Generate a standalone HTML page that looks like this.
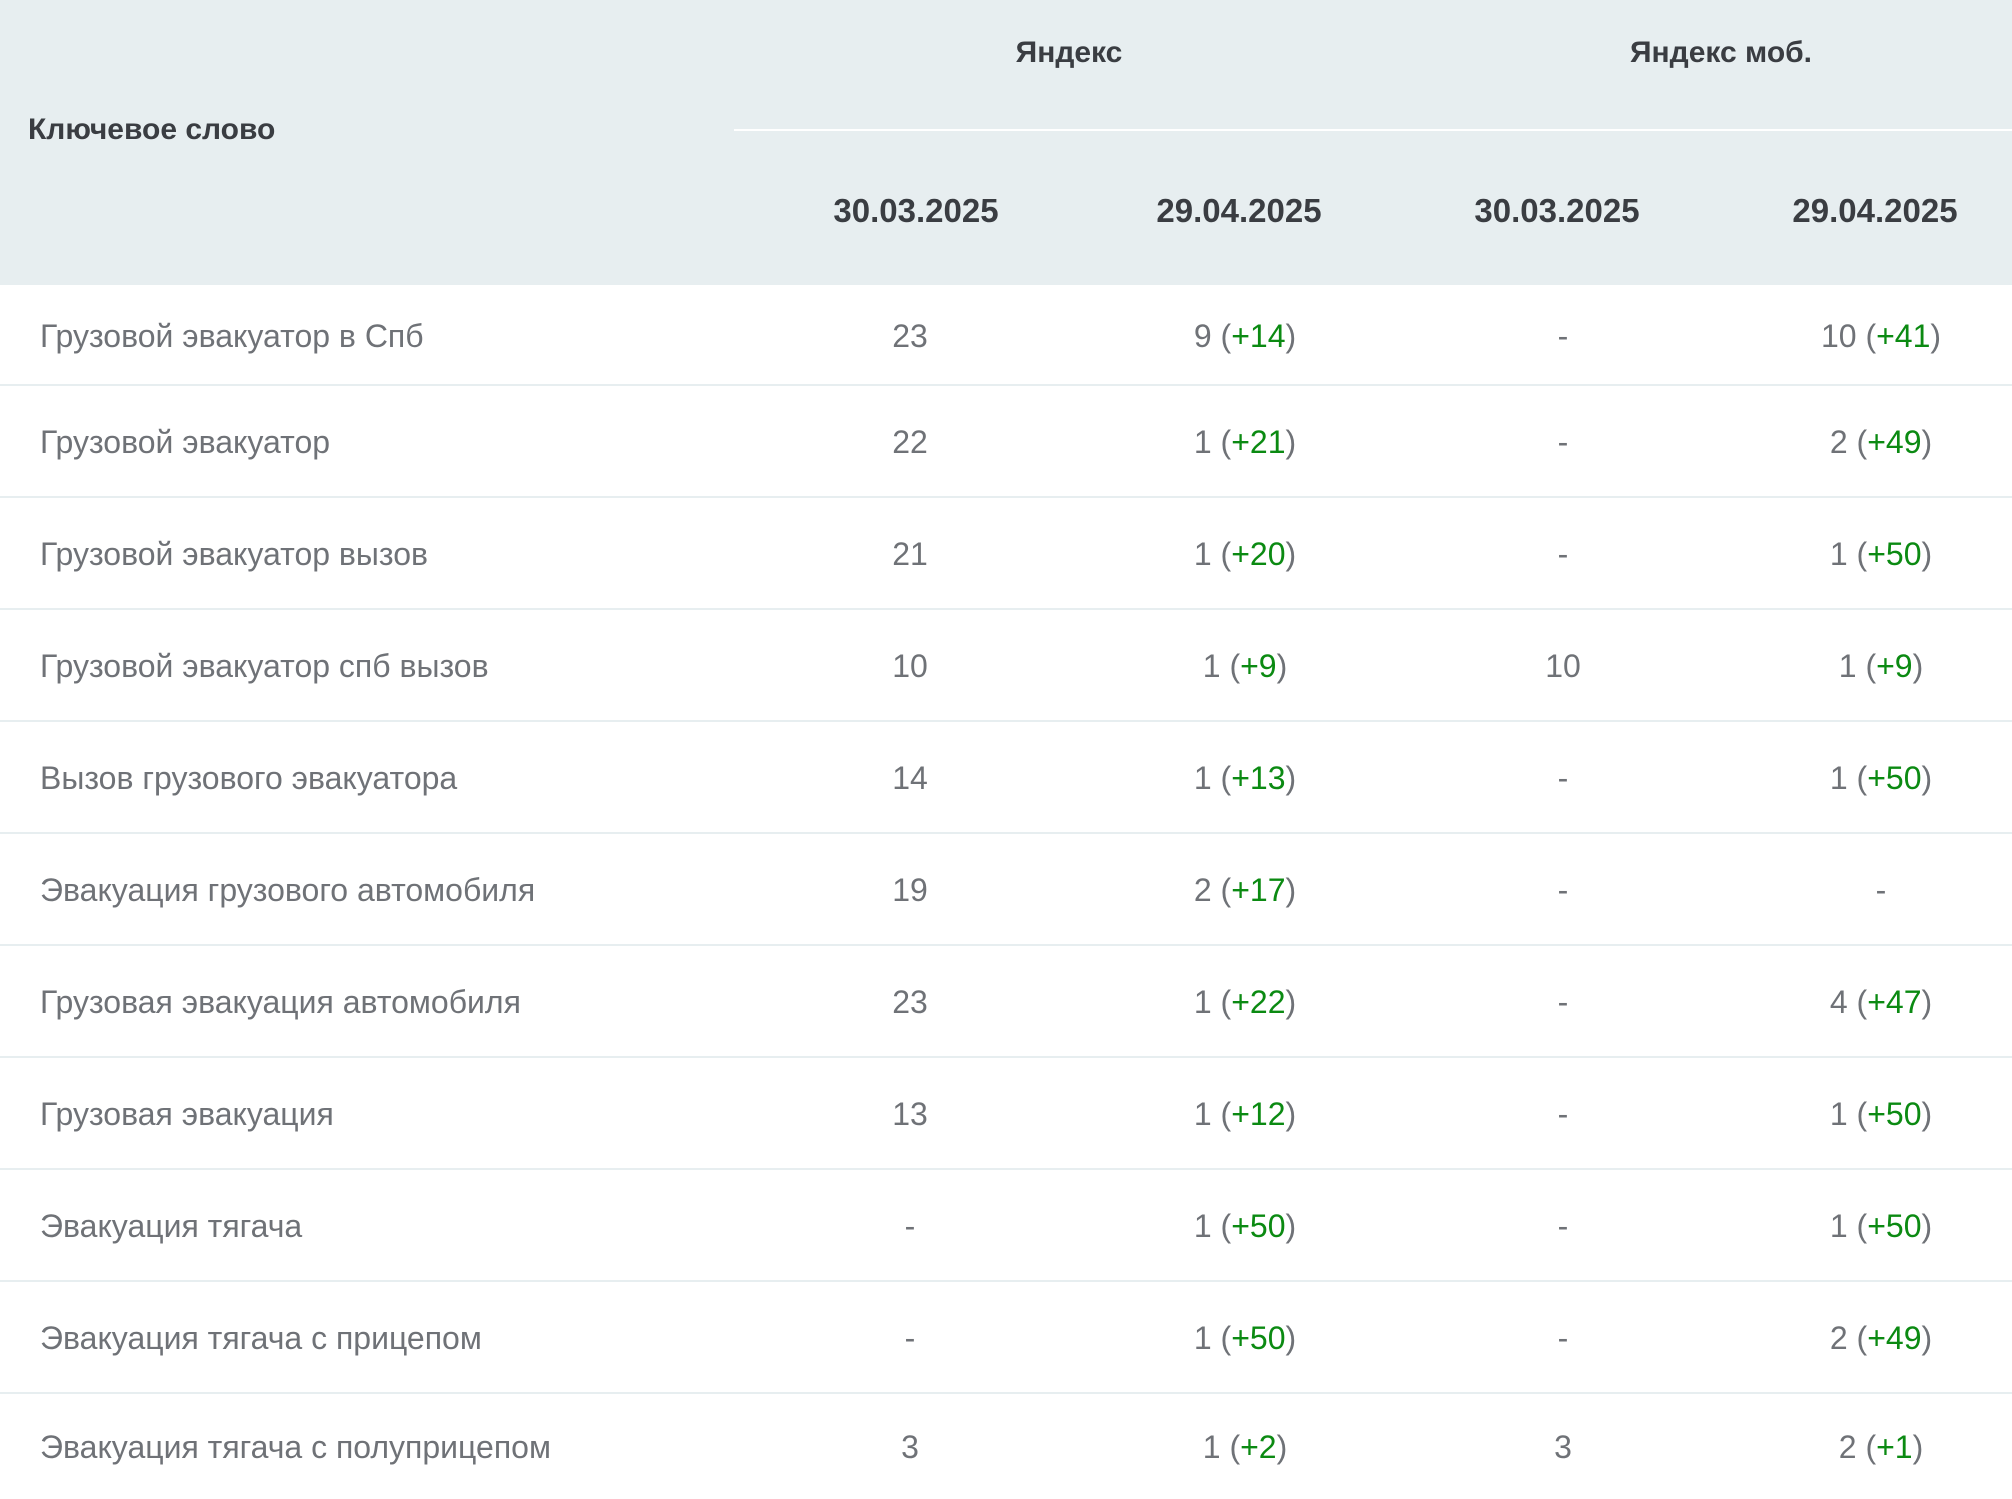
<!DOCTYPE html>
<html><head><meta charset="utf-8">
<style>
html,body{margin:0;padding:0;background:#fff;}
body{width:2012px;height:1499px;position:relative;overflow:hidden;font-family:"Liberation Sans","DejaVu Sans",sans-serif;}
.hdr{position:absolute;left:0;top:0;width:2012px;height:285px;background:#e7eef0;}
.sub{position:absolute;left:734px;top:129px;width:1278px;height:2px;background:#fff;}
.h{position:absolute;color:#3a3d42;font-weight:bold;white-space:nowrap;transform:translateX(-50%);}
.kw{position:absolute;color:#6f7277;font-size:32px;white-space:nowrap;}
.c{position:absolute;color:#6f7277;font-size:32px;white-space:nowrap;transform:translateX(-50%);}
.g{color:#0b8a12;}
.sep{position:absolute;left:0;width:2012px;height:2px;background:#e7eef0;}
</style></head>
<body>
<div class="hdr"></div>
<div class="sub"></div>
<div class="h" style="left:0;transform:none;left:28px;top:113px;font-size:30px;">Ключевое слово</div>
<div class="h" style="left:1069px;top:36px;font-size:30px;">Яндекс</div>
<div class="h" style="left:1721px;top:36px;font-size:30px;">Яндекс моб.</div>
<div class="h" style="left:916px;top:192px;font-size:33px;">30.03.2025</div>
<div class="h" style="left:1239px;top:192px;font-size:33px;">29.04.2025</div>
<div class="h" style="left:1557px;top:192px;font-size:33px;">30.03.2025</div>
<div class="h" style="left:1875px;top:192px;font-size:33px;">29.04.2025</div>
<div id="rows"></div>
<script>
const keywords=["Грузовой эвакуатор в Спб","Грузовой эвакуатор","Грузовой эвакуатор вызов","Грузовой эвакуатор спб вызов","Вызов грузового эвакуатора","Эвакуация грузового автомобиля","Грузовая эвакуация автомобиля","Грузовая эвакуация","Эвакуация тягача","Эвакуация тягача с прицепом","Эвакуация тягача с полуприцепом"];
const yaOld=["23","22","21","10","14","19","23","13","-","-","3"];
const yaNew=["9","1","1","1","1","2","1","1","1","1","1"];
const yaDelta=["+14","+21","+20","+9","+13","+17","+22","+12","+50","+50","+2"];
const mobOld=["-","-","-","10","-","-","-","-","-","-","3"];
const mobNew=["10","2","1","1","1","-","4","1","1","2","2"];
const mobDelta=["+41","+49","+50","+9","+50","","+47","+50","+50","+49","+1"];
const root=document.getElementById('rows');
const tops=[285,385,497,609,721,833,945,1057,1169,1281,1393];
const bottoms=[385,497,609,721,833,945,1057,1169,1281,1393,1499];
function cell(x,yc,html,name){
  const d=document.createElement('div');
  d.className='c';
  d.style.left=x+'px';d.style.top=(yc-19)+'px';
  d.innerHTML=html;
  
  
  root.appendChild(d);
}
keywords.forEach((k,i)=>{
  const yc=(tops[i]+bottoms[i])/2+2;
  const r=document.createElement('div');
  r.className='kw';r.style.left='40px';r.style.top=(yc-19)+'px';r.textContent=k;
  
  
  root.appendChild(r);
  cell(910,yc,yaOld[i],'yandex-old-position');
  cell(1245,yc,yaNew[i]==='-'?'-':yaNew[i]+' (<span class="g">'+yaDelta[i]+'</span>)','yandex-new-position');
  cell(1563,yc,mobOld[i],'mobile-old-position');
  cell(1881,yc,mobNew[i]==='-'?'-':mobNew[i]+' (<span class="g">'+mobDelta[i]+'</span>)','mobile-new-position');
  if(i<keywords.length-1){
    const s=document.createElement('div');
    s.className='sep';s.style.top=(bottoms[i]-1)+'px';
    
    
    root.appendChild(s);
  }
});
</script>
</body></html>
